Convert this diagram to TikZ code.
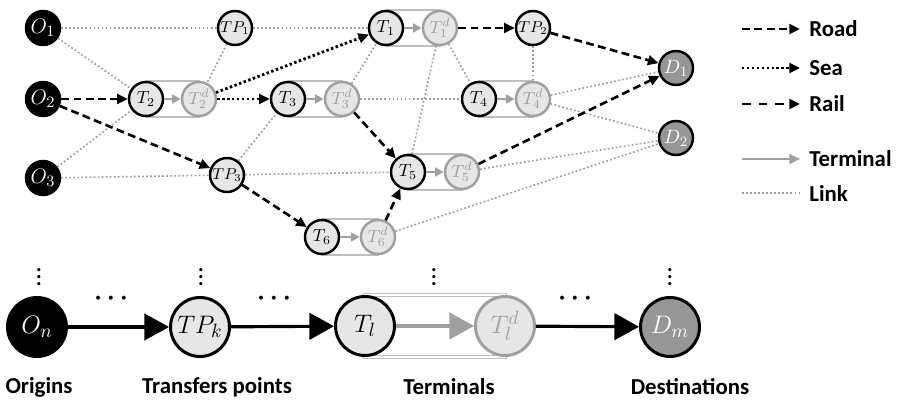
\documentclass[tikz,border=0pt]{standalone}
\usepackage{fontspec}
\setmainfont{Carlito}
\usepackage{tikz}
\usetikzlibrary{arrows.meta, positioning, calc, backgrounds}
\definecolor{NetFill}{RGB}{230, 230, 230}
\definecolor{NetDest}{RGB}{150, 150, 150}
\definecolor{NetGray}{RGB}{160, 160, 160}
\definecolor{NetLink}{RGB}{155, 155, 155}
\definecolor{NetCaps}{RGB}{190, 190, 190}

\tikzset{
  netnode/.style={circle, draw=black, line width=1.4pt, minimum size=0.68cm, inner sep=0pt, fill=NetFill, font=\fontsize{10}{12}\selectfont},
  orignode/.style={netnode, fill=black, text=white, font=\fontsize{13}{15}\selectfont},
  tpnode/.style={netnode, font=\fontsize{9}{11}\selectfont},
  termnode/.style={netnode},
  termdnode/.style={netnode, draw=NetGray, text=NetGray},
  destnode/.style={netnode, fill=NetDest, text=white, font=\fontsize{11}{13}\selectfont},
  bignode/.style={minimum size=1.18cm, line width=1.7pt, font=\fontsize{15}{17}\selectfont},
  capsule/.style={draw=NetCaps, line width=1pt, fill=white},
  bigcapsule/.style={draw=NetCaps, double=white, double distance=1.2pt, line width=0.8pt},
  road/.style={line width=1.5pt, dash pattern=on 4.5pt off 2.5pt, -{Triangle[length=6pt,width=5.5pt]}},
  sea/.style={line width=1.6pt, dash pattern=on 1.4pt off 1.4pt, -{Triangle[length=6pt,width=5.5pt]}},
  rail/.style={line width=1.5pt, dash pattern=on 5pt off 4.5pt, -{Triangle[length=6pt,width=5.5pt]}},
  termarrow/.style={draw=NetGray, line width=1.4pt, -{Triangle[length=5pt,width=5pt]}, NetGray},
  link/.style={draw=NetLink, line width=0.9pt, dash pattern=on 1pt off 1.3pt},
  flow/.style={line width=1.8pt, -{Triangle[length=14pt,width=15pt]}},
  bigterm/.style={draw=NetGray, line width=1.8pt, -{Triangle[length=14pt,width=15pt]}, NetGray},
  legtext/.style={anchor=west, font=\fontsize{13}{15}\selectfont\bfseries, inner sep=0pt},
  caption/.style={font=\fontsize{13}{15}\selectfont\bfseries},
  vdots/.style={font=\fontsize{15}{17}\selectfont\boldmath}
}

\begin{document}
\begin{tikzpicture}[x=0.02cm, y=-0.02cm]
  \useasboundingbox (0,0) rectangle (900,401);

  % origins and destinations
  \node[orignode] (O1) at (43,28) {$O_1$};
  \node[orignode] (O2) at (43,99) {$O_2$};
  \node[orignode] (O3) at (43,178) {$O_3$};
  \node[destnode] (D1) at (676,68) {$D_1$};
  \node[destnode] (D2) at (676,138) {$D_2$};

  % transfer points
  \node[tpnode] (TP1) at (235,28) {$TP_1$};
  \node[tpnode] (TP2) at (533,28) {$TP_2$};
  \node[tpnode] (TP3) at (227,175) {$TP_3$};

  % terminals
  \node[termnode] (T1) at (386,28) {$T_1$};
  \node[termdnode] (T1d) at (440,28) {$T_1^d$};
  \node[termnode] (T2) at (146,99) {$T_2$};
  \node[termdnode] (T2d) at (199,99) {$T_2^d$};
  \node[termnode] (T3) at (288,99) {$T_3$};
  \node[termdnode] (T3d) at (342,99) {$T_3^d$};
  \node[termnode] (T4) at (479,99) {$T_4$};
  \node[termdnode] (T4d) at (533,99) {$T_4^d$};
  \node[termnode] (T5) at (408,172) {$T_5$};
  \node[termdnode] (T5d) at (462,172) {$T_5^d$};
  \node[termnode] (T6) at (322,237) {$T_6$};
  \node[termdnode] (T6d) at (378,237) {$T_6^d$};

  \begin{scope}[on background layer]
    \foreach \t in {1,...,6}
      \draw[capsule] (T\t.north) rectangle (T\t d.south);
  \end{scope}
  \foreach \t in {1,...,6}
    \draw[termarrow] (T\t) -- (T\t d);

  % links
  \draw[link] (O1) -- (TP1);
  \draw[link] (TP1) -- (T1);
  \draw[link] (O1) -- (T2);
  \draw[link] (O3) -- (T2);
  \draw[link] (O3) -- (TP3);
  \draw[link] (TP1) -- (T2d);
  \draw[link] (TP3) -- (T3);
  \draw[link] (TP3) -- (T5);
  \draw[link] (T3d) -- (T1);
  \draw[link] (T3d) -- (T4);
  \draw[link] (T1d) -- (T5);
  \draw[link] (T1d) -- (T4);
  \draw[link] (TP2) -- (T4d);
  \draw[link] (T4d) -- (D1);
  \draw[link] (T4d) -- (D2);
  \draw[link] (T5d) -- (D2);
  \draw[link] (T6d) -- (D2);

  % transport legs
  \draw[road] (O2) -- (T2);
  \draw[road] (O2) -- (TP3);
  \draw[road] (TP3) -- (T6);
  \draw[road] (T6d) -- (T5);
  \draw[road] (T3d) -- (T5);
  \draw[road] (T1d) -- (TP2);
  \draw[road] (TP2) -- (D1);
  \draw[road] (T5d) -- (D1);
  \draw[sea] (T2d) -- (T1);
  \draw[sea] (T2d) -- (T3);

  % legend
  \coordinate (roadA) at (742,29);  \coordinate (roadB) at (800,29);
  \coordinate (seaA) at (742,68);   \coordinate (seaB) at (800,68);
  \coordinate (railA) at (742,104); \coordinate (railB) at (800,104);
  \coordinate (termA) at (742,159); \coordinate (termB) at (800,159);
  \coordinate (linkA) at (742,193); \coordinate (linkB) at (800,193);
  \draw[road] (roadA) -- (roadB);
  \draw[sea] (seaA) -- (seaB);
  \draw[rail] (railA) -- (railB);
  \draw[termarrow, -{Triangle[length=6pt,width=5.5pt]}] (termA) -- (termB);
  \draw[link] (linkA) -- (linkB);
  \node[legtext] (roadL) at (809,29) {Road};
  \node[legtext] (seaL) at (809,68) {Sea};
  \node[legtext] (railL) at (809,104) {Rail};
  \node[legtext] (termL) at (809,159) {Terminal};
  \node[legtext] (linkL) at (809,193) {Link};

  % generic chain
  \node[orignode, bignode] (On) at (37,327) {$O_n$};
  \node[tpnode, bignode] (TPk) at (200,327) {$TP_k$};
  \node[termnode, bignode] (Tl) at (365,326) {$T_l$};
  \node[termdnode, bignode] (Tld) at (505,326) {$T_l^d$};
  \node[destnode, bignode] (Dm) at (670,327) {$D_m$};
  \begin{scope}[on background layer]
    \draw[bigcapsule, fill=white] (Tl.north) rectangle (Tld.south);
  \end{scope}
  \draw[flow] (On) -- (TPk);
  \draw[flow] (TPk) -- (Tl);
  \draw[bigterm] (Tl) -- (Tld);
  \draw[flow] (Tld) -- (Dm);

  \node[vdots] (dotsO) at (39,272) {$\vdots$};
  \node[vdots] (dotsTP) at (201,272) {$\vdots$};
  \node[vdots] (dotsT) at (434,272) {$\vdots$};
  \node[vdots] (dotsD) at (670,272) {$\vdots$};
  \node[vdots] (hdotsA) at (111,299) {$\cdots$};
  \node[vdots] (hdotsB) at (274,299) {$\cdots$};
  \node[vdots] (hdotsC) at (575,299) {$\cdots$};

  \node[caption] (capO) at (39,387) {Origins};
  \node[caption] (capTP) at (217,387) {Transfers points};
  \node[caption] (capT) at (449,387) {Terminals};
  \node[caption] (capD) at (690,387) {Destinations};
\end{tikzpicture}
\end{document}
